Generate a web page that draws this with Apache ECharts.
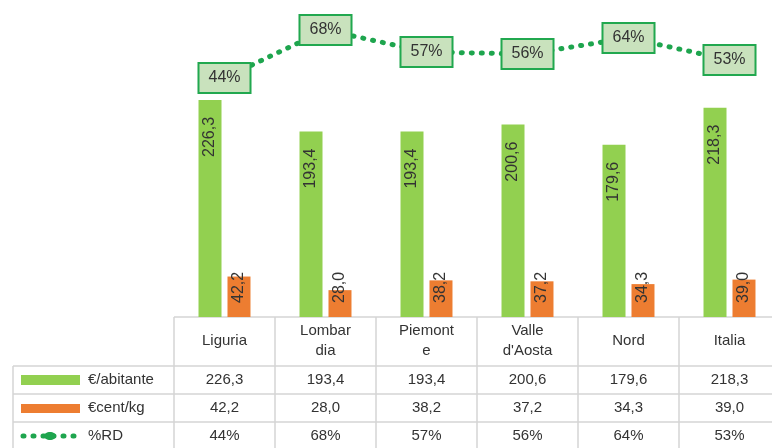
<!DOCTYPE html>
<html>
<head>
<meta charset="utf-8">
<script src="https://cdn.jsdelivr.net/npm/echarts@6/dist/echarts.min.js"></script>
<style>
  html, body { margin: 0; background: #fff; }
  #chart { width: 772px; height: 448px; }
</style>
</head>
<body>
<div id="chart"></div>
<script>
  const categories = ['Liguria', 'Lombar\ndia', 'Piemont\ne', 'Valle\nd\'Aosta', 'Nord', 'Italia']
  const euroAbitante = [226.3, 193.4, 193.4, 200.6, 179.6, 218.3]
  const centKg = [42.2, 28.0, 38.2, 37.2, 34.3, 39.0]
  const rdPct = [44, 68, 57, 56, 64, 53]
  const rowNames = ['€/abitante', '€cent/kg', '%RD']

  const GREEN = '#92d050'
  const ORANGE = '#ed7d31'
  const LINE = '#1ea54e'
  const TEXT = '#333'
  const BORDER = '#d4d4d4'
  const font = "'Liberation Sans', Arial, sans-serif"
  const fmt = v => v.toFixed(1).replace('.', ',')

  const barLabel = {
    show: true,
    rotate: 90,
    verticalAlign: 'middle',
    fontSize: 16,
    color: TEXT,
    fontFamily: font,
    formatter: p => fmt(p.value)
  }

  const chart = echarts.init(document.getElementById('chart'))
  chart.setOption({
    animation: false,
    grid: { left: 174, top: 17, width: 606, height: 300, outerBoundsMode: 'none' },
    xAxis: {
      type: 'category',
      data: categories,
      axisLine: { show: false },
      axisTick: { show: false },
      axisLabel: {
        margin: 24,
        verticalAlign: 'middle',
        fontSize: 15,
        lineHeight: 20,
        color: TEXT,
        fontFamily: font
      }
    },
    yAxis: [
      { type: 'value', min: 0, max: 312.8, show: false },
      { type: 'value', min: -75.5, max: 74.5, show: false }
    ],
    series: [
      {
        name: '€/abitante',
        type: 'bar',
        data: euroAbitante,
        barWidth: 23,
        barGap: '26%',
        itemStyle: { color: GREEN },
        label: { ...barLabel, position: 'insideTop', align: 'right', distance: 17 }
      },
      {
        name: '€cent/kg',
        type: 'bar',
        data: centKg,
        barWidth: 23,
        itemStyle: { color: ORANGE },
        label: { ...barLabel, position: 'insideBottom', align: 'left', distance: 14 }
      },
      {
        name: '%RD',
        type: 'line',
        yAxisIndex: 1,
        data: rdPct,
        symbol: 'circle',
        symbolSize: 1,
        itemStyle: { color: LINE },
        lineStyle: { color: LINE, width: 5, type: [1, 9], cap: 'round' },
        label: {
          show: true,
          position: 'inside',
          formatter: '{c}%',
          backgroundColor: '#c9e2bd',
          borderColor: '#21a84f',
          borderWidth: 2,
          padding: [7, 9, 5, 9],
          fontSize: 16,
          color: TEXT,
          fontFamily: font
        }
      }
    ]
  })

  // data table under the plot, aligned on the category bands
  const centers = categories.map((c, i) => chart.convertToPixel({ xAxisIndex: 0 }, i))
  const band = centers[1] - centers[0]
  const tableTop = 317
  const headBottom = 366
  const rowH = 28
  const leftX = 13
  const rightX = centers[centers.length - 1] + band / 2
  const graphics = []
  const line = (x1, y1, x2, y2) => graphics.push({
    type: 'line', shape: { x1, y1, x2, y2 }, style: { stroke: BORDER, lineWidth: 1.5 }, silent: true
  })
  const text = (x, y, t, align) => graphics.push({
    type: 'text', x, y,
    style: { text: t, fill: TEXT, font: '15px ' + font, align: align || 'center', verticalAlign: 'middle' }
  })

  line(centers[0] - band / 2, tableTop, rightX, tableTop)
  for (let r = 0; r <= 3; r++) line(leftX, headBottom + r * rowH, rightX, headBottom + r * rowH)
  line(leftX, headBottom, leftX, 450)
  centers.forEach(c => line(c - band / 2, tableTop, c - band / 2, 450))
  line(rightX, tableTop, rightX, 450)

  const rows = [euroAbitante.map(fmt), centKg.map(fmt), rdPct.map(v => v + '%')]
  rows.forEach((vals, r) => {
    const y = headBottom + r * rowH + rowH / 2
    text(88, y, rowNames[r], 'left')
    vals.forEach((v, i) => text(centers[i], y, v))
  })

  // legend keys in the first column
  const y0 = headBottom + rowH / 2
  graphics.push({ type: 'rect', shape: { x: 21, y: y0 - 5, width: 59, height: 10 }, style: { fill: GREEN } })
  graphics.push({ type: 'rect', shape: { x: 21, y: y0 + rowH - 4, width: 59, height: 9 }, style: { fill: ORANGE } })
  const y2 = y0 + 2 * rowH
  graphics.push({
    type: 'line', shape: { x1: 23, y1: y2, x2: 79, y2: y2 },
    style: { stroke: LINE, lineWidth: 5, lineDash: [1, 9], lineCap: 'round' }
  })
  graphics.push({ type: 'ellipse', shape: { cx: 50, cy: y2, rx: 6, ry: 4 }, style: { fill: LINE } })

  chart.setOption({ graphic: graphics })
</script>
</body>
</html>
